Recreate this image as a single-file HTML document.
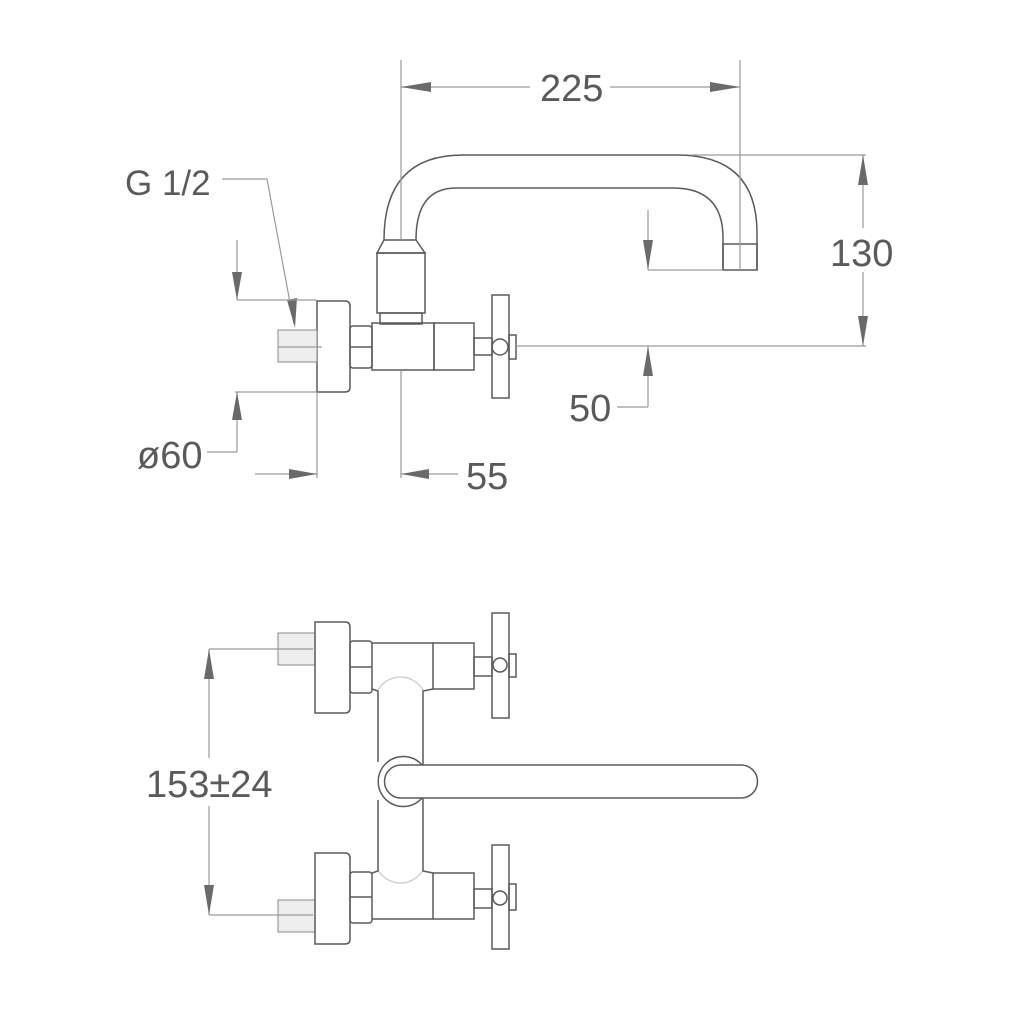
<!DOCTYPE html>
<html><head><meta charset="utf-8"><style>
html,body{margin:0;padding:0;background:#fff;}
svg{display:block}
text{font-family:"Liberation Sans",sans-serif;fill:#5a5a5a;font-size:38px}
.o{fill:none;stroke:#5a5a5a;stroke-width:1.5}
.d{fill:none;stroke:#9a9a9a;stroke-width:1.2}
.l{fill:none;stroke:#d0d0d0;stroke-width:1.5}
.a{fill:#6a6a6a}
.t{fill:#eee;stroke:#888;stroke-width:1}
</style></head><body>
<svg width="1024" height="1024" viewBox="0 0 1024 1024" xmlns="http://www.w3.org/2000/svg">
<rect width="1024" height="1024" fill="#fff"/>
<path class="o" d="M384 240 Q384 155 463 155 L677 155 Q757 155 757 233 L757 270"/>
<path class="o" d="M416 240 Q416 188 456 188 L673 188 Q723 188 723 238 L723 270"/>
<rect class="o" x="723" y="244" width="34" height="26"/>
<line class="d" x1="740" y1="60" x2="740" y2="270"/>
<path class="o" d="M384 240 L416 240 L425 253 L377 253 Z"/>
<rect class="o" x="377" y="253" width="48" height="60"/>
<rect class="o" x="380" y="313" width="42" height="11"/>
<rect class="o" x="372" y="323" width="62" height="47"/>
<rect class="o" x="434" y="323" width="40" height="47"/>
<rect class="o" x="474" y="338" width="18" height="17"/>
<rect class="o" x="492" y="295" width="17" height="103"/>
<circle class="o" cx="500" cy="347" r="8"/>
<rect class="o" x="509" y="335" width="7" height="24"/>
<rect class="o" x="350" y="326" width="22" height="42" rx="3"/>
<line class="o" x1="350" y1="347" x2="372" y2="347"/>
<path class="o" d="M317 301 L345 301 Q350 301 350 306 L350 387 Q350 392 345 392 L317 392 Z"/>
<rect class="t" x="278" y="330" width="39" height="32"/>
<line class="d" x1="278" y1="347" x2="322" y2="347"/>
<line class="d" x1="401" y1="60" x2="401" y2="240"/>
<line class="d" x1="401" y1="87" x2="530" y2="87"/>
<line class="d" x1="610" y1="87" x2="740" y2="87"/>
<polygon class="a" points="401,87 431,82 431,92"/>
<polygon class="a" points="740,87 710,82 710,92"/>
<text x="540" y="101">225</text>
<line class="d" x1="690" y1="155" x2="866" y2="155"/>
<line class="d" x1="516" y1="346" x2="866" y2="346"/>
<line class="d" x1="863" y1="155" x2="863" y2="228"/>
<line class="d" x1="863" y1="272" x2="863" y2="346"/>
<polygon class="a" points="863,155 858,185 868,185"/>
<polygon class="a" points="863,346 858,316 868,316"/>
<text x="830" y="266">130</text>
<line class="d" x1="648" y1="210" x2="648" y2="270"/>
<line class="d" x1="648" y1="270" x2="723" y2="270"/>
<polygon class="a" points="648,270 643,240 653,240"/>
<line class="d" x1="648" y1="346" x2="648" y2="407"/>
<line class="d" x1="617" y1="407" x2="648" y2="407"/>
<polygon class="a" points="648,346 643,376 653,376"/>
<text x="569" y="421">50</text>
<text x="125" y="195" style="font-size:35px">G 1/2</text>
<polyline class="d" points="222,179 267,179 294,324"/>
<polygon class="a" points="295,328 287,300 297,298"/>
<line class="d" x1="237" y1="240" x2="237" y2="300"/>
<line class="d" x1="237" y1="300" x2="317" y2="300"/>
<polygon class="a" points="237,300 232,272 242,272"/>
<line class="d" x1="235" y1="392" x2="317" y2="392"/>
<line class="d" x1="237" y1="392" x2="237" y2="452"/>
<line class="d" x1="207" y1="452" x2="237" y2="452"/>
<polygon class="a" points="237,392 232,420 242,420"/>
<text x="137" y="468">ø60</text>
<line class="d" x1="317" y1="392" x2="317" y2="478"/>
<line class="d" x1="255" y1="474" x2="317" y2="474"/>
<polygon class="a" points="317,474 289,469 289,479"/>
<line class="d" x1="401" y1="370" x2="401" y2="478"/>
<line class="d" x1="401" y1="474" x2="458" y2="474"/>
<polygon class="a" points="401,474 429,469 429,479"/>
<text x="466" y="489">55</text>
<path class="l" d="M378 690 A26 26 0 0 1 423 690"/>
<path class="l" d="M378 870 A26 26 0 0 0 423 870"/>
<rect class="t" x="278" y="633" width="37" height="32"/>
<path class="o" d="M315 622 L345 622 Q350 622 350 627 L350 708 Q350 713 345 713 L315 713 Z"/>
<rect class="o" x="350" y="641" width="22" height="52" rx="3"/>
<line class="o" x1="350" y1="667" x2="372" y2="667"/>
<line class="o" x1="372" y1="643" x2="433" y2="643"/>
<rect class="o" x="433" y="643" width="41" height="46"/>
<rect class="o" x="474" y="657" width="18" height="19"/>
<rect class="o" x="492" y="613" width="17" height="105"/>
<circle class="o" cx="500" cy="665" r="7"/>
<rect class="o" x="509" y="654" width="7" height="23"/>
<path class="o" d="M372 689 L378 691 L378 762"/>
<path class="o" d="M378 800 L378 871 L372 873"/>
<path class="o" d="M433 689 L423 691 L423 765"/>
<path class="o" d="M423 798 L423 871 L433 873"/>
<path class="o" d="M422 765 A25 25 0 1 0 422 798"/>
<path class="o" d="M401 765 L741 765 A16.5 16.5 0 0 1 741 798 L401 798 A16.5 16.5 0 0 1 401 765 Z"/>
<rect class="t" x="278" y="900" width="37" height="32"/>
<path class="o" d="M315 853 L345 853 Q350 853 350 858 L350 939 Q350 944 345 944 L315 944 Z"/>
<rect class="o" x="350" y="872" width="22" height="51" rx="3"/>
<line class="o" x1="350" y1="897" x2="372" y2="897"/>
<line class="o" x1="372" y1="919" x2="433" y2="919"/>
<rect class="o" x="433" y="873" width="41" height="46"/>
<rect class="o" x="474" y="889" width="18" height="19"/>
<rect class="o" x="492" y="845" width="17" height="104"/>
<circle class="o" cx="500" cy="898" r="7"/>
<rect class="o" x="509" y="884" width="7" height="26"/>
<line class="d" x1="209" y1="649" x2="313" y2="649"/>
<line class="d" x1="209" y1="915" x2="313" y2="915"/>
<line class="d" x1="209" y1="649" x2="209" y2="758"/>
<line class="d" x1="209" y1="806" x2="209" y2="915"/>
<polygon class="a" points="209,649 204,679 214,679"/>
<polygon class="a" points="209,915 204,885 214,885"/>
<text x="146" y="797">153±24</text>
</svg>
</body></html>
